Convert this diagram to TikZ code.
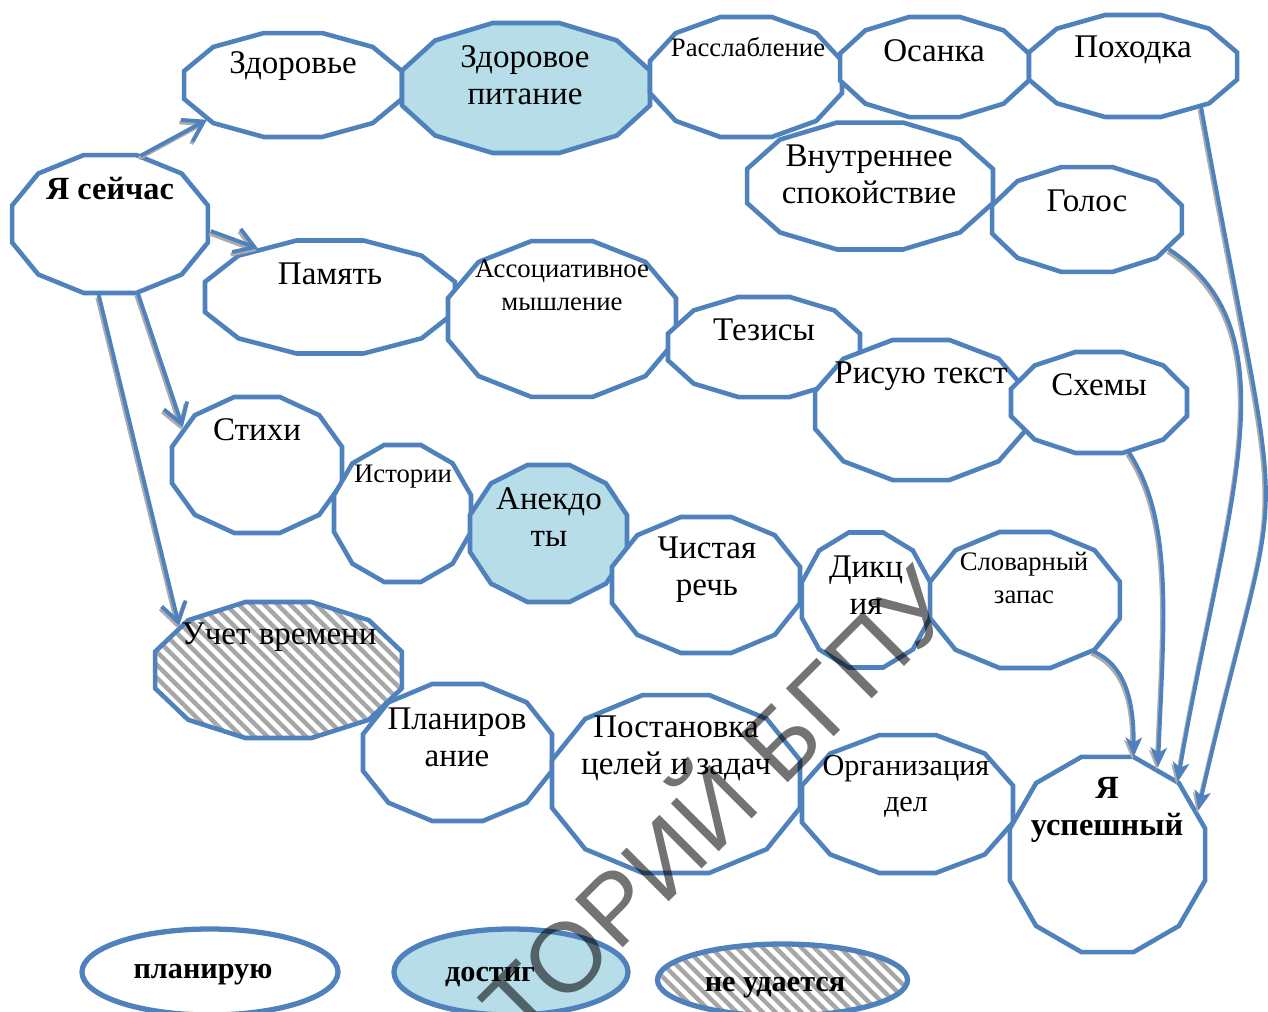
\documentclass[tikz,border=0pt]{standalone}
\usepackage{fontspec}
\setmainfont{Liberation Serif}
\newfontfamily\wmfont{Liberation Sans}
\usetikzlibrary{arrows.meta,patterns.meta,shapes.geometric}

\definecolor{rimblue}{HTML}{4F81BD}
\definecolor{doneblue}{HTML}{B7DDE8}

\tikzset{
  spot/.style={ellipse, inner sep=0pt, outer sep=0pt},
  rim/.style={draw=rimblue, line width=1.3pt, fill=white},
  done/.style={fill=doneblue},
  fail/.style={preaction={fill=white}, pattern={Lines[angle=-45,distance=2.6pt,line width=1.25pt]}, pattern color=gray!70},
  word/.style={align=center, font=\fontsize{9.4}{10.6}\selectfont},
  small/.style={align=center, font=\fontsize{7.6}{9.4}\selectfont},
  mid/.style={align=center, font=\fontsize{8.6}{10.2}\selectfont},
  bold/.style={align=center, font=\fontsize{9.2}{10.6}\selectfont\bfseries},
  key/.style={font=\fontsize{8.6}{10}\selectfont\bfseries},
  wm/.style={font=\wmfont\fontsize{28}{28}\selectfont, text=black, text opacity=0.55, inner sep=0pt},
  link/.style={draw=rimblue, line width=1.1pt,
    preaction={draw=gray!65, line width=1.1pt, transform canvas={xshift=-0.15mm, yshift=-0.25mm}}},
  barb/.style={-{Straight Barb[length=5.5pt,width=7pt]}},
  tip/.style={-{Stealth[length=5.5pt,width=4.6pt,inset=1.4pt]}},
}

% dodecagon: [options]{name}{centre}{rx}{ry}
\newcommand{\dodec}[5][]{%
  \node[spot, minimum width={#4*0.2mm}, minimum height={#5*0.2mm}] (#2) at (#3) {};
  \draw[rim,#1] (#2.center) +(15:#4 and #5)
    foreach \a in {45,75,...,345} { -- +(\a:#4 and #5) } -- cycle;}

\begin{document}
\begin{tikzpicture}[x=0.1mm, y=-0.1mm]
\useasboundingbox (0,0) rectangle (1268,1012);

% top row
\dodec{zdor}{293,85}{112.8}{53.8}
\dodec[done]{pitan}{526,88}{128.4}{67.3}
\dodec{rassl}{746,77}{99.4}{62.1}
\dodec{osan}{934.5,67}{97.8}{51.8}
\dodec{pokh}{1133,66}{107.7}{52.8}
\dodec{vnutr}{870,186}{127.3}{65.7}
\dodec{golos}{1087,219.5}{98.3}{54.3}
\dodec{jnow}{110,224}{101.4}{71.4}

% memory row
\dodec{pamyat}{330,297}{129.4}{58.5}
\dodec{assoc}{562,319}{118}{80.7}
\dodec{tezis}{764,347}{99.4}{51.8}
\dodec{risuyu}{921,410}{109.7}{72.5}
\dodec{skhemy}{1099,402.5}{91.1}{52.3}

% speech row
\dodec{stikhi}{257,465}{88}{70.4}
\dodec{istorii}{402.5,513.5}{70.9}{70.9}
\dodec[done]{anekd}{548.5,533.5}{81.3}{70.9}
\dodec{chist}{706,585}{97.3}{70.4}
\dodec{dikts}{866,600}{66.3}{69.9}
\dodec{slovar}{1025,600}{98.3}{70.4}

% time row
\dodec[fail]{uchet}{278.5,670}{127.8}{70.4}
\dodec{planir}{457.5,752.5}{97.8}{70.9}
\dodec{postan}{676,784}{128.4}{92.1}
\dodec{organiz}{907.5,804}{109.2}{71.4}
\dodec{uspeh}{1107.5,854.5}{101}{101}

% labels
\node[bold] (t-jnow) at (110,189) {Я сейчас};
\node[word] (t-zdor) at (293,66) {Здоровье};
\node[word] (t-pitan) at (525,75) {Здоровое\\питание};
\node[small] (t-rassl) at (748,47) {Расслабление};
\node[word] (t-osan) at (934,51) {Осанка};
\node[word] (t-pokh) at (1133,50) {Походка};
\node[word] (t-vnutr) at (869,174) {Внутреннее\\спокойствие};
\node[word] (t-golos) at (1087,201) {Голос};
\node[word] (t-pamyat) at (330,274) {Память};
\node[small] (t-assoc) at (562,285) {Ассоциативное\\мышление};
\node[word] (t-tezis) at (764,330) {Тезисы};
\node[word] (t-risuyu) at (921,376) {Рисую текст};
\node[word] (t-skhemy) at (1099,385) {Схемы};
\node[word] (t-stikhi) at (257,430) {Стихи};
\node[small] (t-istorii) at (403,477) {Истории};
\node[word] (t-anekd) at (549,517) {Анекдо\\ты};
\node[word] (t-chist) at (707,570) {Чистая\\речь};
\node[word] (t-dikts) at (866,585) {Дикц\\ия};
\node[small] (t-slovar) at (1024,578) {Словарный\\запас};
\node[word] (t-uchet) at (279,637) {Учет времени};
\node[word] (t-planir) at (457,737) {Планиров\\ание};
\node[word] (t-postan) at (676,748) {Постановка\\целей и задач};
\node[mid] (t-organiz) at (906,786) {Организация\\дел};
\node[bold] (t-uspeh) at (1107,810) {Я\\успешный};

% arrows out of "now"
\draw[link, barb] (jnow.66) -- (zdor.202);
\draw[link, barb] (jnow.-4) -- (pamyat.146);
\draw[link, barb] (jnow.-68) -- (stikhi.153);
\draw[link, barb] (jnow.-99) -- (uchet.156);

% arrows into "success"
\draw[link, tip] (slovar.-37) .. controls (1125,665) and (1134,700) .. (uspeh.75);
\draw[link, tip] (skhemy.-59) .. controls (1174,520) and (1164,622) .. (uspeh.60);
\draw[link, tip] (golos.-20) .. controls (1297,333) and (1225,507) .. (uspeh.46);
\draw[link, tip] (pokh.-31) .. controls (1289,590) and (1286,430) .. (uspeh.26);

% legend
\node[spot, rim, line width=1.5pt, minimum width=25.6mm, minimum height=8.6mm] (plan) at (210,972) {};
\node[spot, rim, done, line width=1.5pt, minimum width=23.4mm, minimum height=8.6mm] (dost) at (511,972) {};
\node[spot, rim, fail, line width=1.5pt, minimum width=25mm, minimum height=7.2mm] (neud) at (782.5,980) {};
\node[key] (t-plan) at (203,975) {планирую};
\node[key] (t-dost) at (490,977) {достиг};
\node[key] (t-neud) at (775,988) {не удается};

% watermark
\begin{scope}
  \clip (0,0) rectangle (1268,1012);
  \node[wm, rotate=45] (wmark) at (711,798) {ТОРИЙ БГПУ};
\end{scope}
\end{tikzpicture}
\end{document}
